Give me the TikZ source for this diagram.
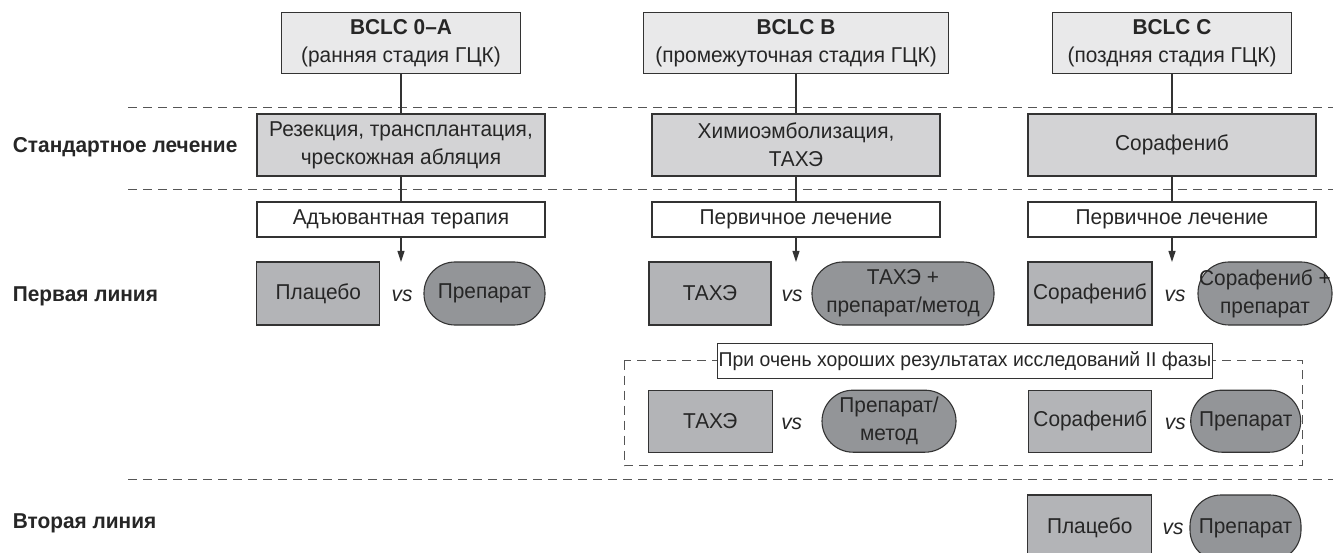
\documentclass[tikz,border=0pt]{standalone}
\usepackage{fontspec}
\setmainfont{Liberation Sans}[FakeStretch=0.97]
\usetikzlibrary{arrows.meta}
\definecolor{topfill}{HTML}{E9E9EA}
\definecolor{stdfill}{HTML}{D3D3D5}
\definecolor{rectfill}{HTML}{B3B4B7}
\definecolor{pillfill}{HTML}{939598}
\definecolor{linec}{HTML}{333333}
\definecolor{dashc}{HTML}{555555}
\tikzset{
  base/.style={draw=linec, line width=1.1pt, inner sep=0pt, align=center,
    font=\fontsize{21.5}{28}\selectfont, text=black!85},
  topbox/.style={base, fill=topfill, minimum height=61pt},
  stdbox/.style={base, fill=stdfill, minimum width=288pt, minimum height=62pt},
  wbox/.style={base, fill=white, minimum width=288pt, minimum height=35pt},
  cmpbox/.style={base, fill=rectfill, minimum height=63pt},
  pill/.style={base, fill=pillfill, minimum height=63pt, rounded corners=31pt},
  vslab/.style={font=\fontsize{21.5}{24}\selectfont\itshape, text=black!85, inner sep=0pt},
  rowlab/.style={font=\fontsize{21.5}{24}\selectfont\bfseries, text=black!85, anchor=west, inner sep=0pt},
  sepline/.style={draw=dashc, line width=1pt, dash pattern=on 9pt off 6pt},
  conn/.style={draw=linec, line width=1.1pt},
  arr/.style={conn, -{Triangle[length=11pt,width=7pt]}},
}
\begin{document}
\begin{tikzpicture}[x=1pt,y=-1pt]
\useasboundingbox (0,0) rectangle (1333,553);
\clip (0,0) rectangle (1333,553);

% separators
\draw[sepline] (128,108) -- (1333,108);
\draw[sepline] (128,190) -- (1333,190);
\draw[sepline] (128,479) -- (1333,479);

% row labels
\node[rowlab] (l1) at (12.7,147) {Стандартное лечение};
\node[rowlab] (l2) at (12.7,296) {Первая линия};
\node[rowlab] (l3) at (12.7,523) {Вторая линия};

% top boxes
\node[topbox, minimum width=239pt] (At) at (401,43.3) {\textbf{BCLC 0–A}\\(ранняя стадия ГЦК)};
\node[topbox, minimum width=305pt] (Bt) at (796,43.3) {\textbf{BCLC B}\\(промежуточная стадия ГЦК)};
\node[topbox, minimum width=239pt] (Ct) at (1172,43.3) {\textbf{BCLC C}\\(поздняя стадия ГЦК)};

% standard treatment
\node[stdbox] (As) at (401,145) {Резекция, трансплантация,\\чрескожная абляция};
\node[stdbox] (Bs) at (796,145) {Химиоэмболизация,\\ТАХЭ};
\node[stdbox] (Cs) at (1172,145) {Сорафениб};

% white boxes
\node[wbox] (Aw) at (401,219.5) {Адъювантная терапия};
\node[wbox] (Bw) at (796,219.5) {Первичное лечение};
\node[wbox] (Cw) at (1172,219.5) {Первичное лечение};

% connectors
\draw[conn] (At.south) -- (As.north);
\draw[conn] (Bt.south) -- (Bs.north);
\draw[conn] (Ct.south) -- (Cs.north);
\draw[conn] (As.south) -- (Aw.north);
\draw[conn] (Bs.south) -- (Bw.north);
\draw[conn] (Cs.south) -- (Cw.north);
\coordinate (Aa) at (401,262);
\coordinate (Ba) at (796,262);
\coordinate (Ca) at (1172,262);
\draw[arr] (Aw.south) -- (Aa);
\draw[arr] (Bw.south) -- (Ba);
\draw[arr] (Cw.south) -- (Ca);

% first line
\node[cmpbox, minimum width=123pt] (A1r) at (318.3,293.5) {Плацебо};
\node[vslab] (A1v) at (402,296) {vs};
\node[pill, minimum width=121pt] (A1p) at (484.5,293.5) {Препарат};

\node[cmpbox, minimum width=122pt] (B1r) at (710,293.5) {ТАХЭ};
\node[vslab] (B1v) at (792,296) {vs};
\node[pill, minimum width=182pt] (B1p) at (903,293.5) {ТАХЭ +\\препарат/метод};

\node[cmpbox, minimum width=124pt] (C1r) at (1090,293.5) {Сорафениб};
\node[vslab] (C1v) at (1175,296) {vs};
\node[pill, minimum width=134pt] (C1p) at (1265,293.5) {Сорафениб +\\препарат};

% phase II region
\draw[sepline] (624,360.7) rectangle (1302.3,465.7);
\node[wbox, minimum width=494.6pt, font=\fontsize{20}{24}\selectfont] (ph) at (965,360.8) {При очень хороших результатах исследований II фазы};

\node[cmpbox, minimum width=124pt, minimum height=62pt] (B2r) at (710.3,421.2) {ТАХЭ};
\node[vslab] (B2v) at (791.7,424) {vs};
\node[pill, minimum width=134pt, minimum height=62pt] (B2p) at (889,421.2) {Препарат/\\метод};

\node[cmpbox, minimum width=123pt, minimum height=62pt] (C2r) at (1090.3,421.2) {Сорафениб};
\node[vslab] (C2v) at (1175.3,424) {vs};
\node[pill, minimum width=110pt, minimum height=62pt] (C2p) at (1245.7,421.2) {Препарат};

% second line
\node[cmpbox, minimum width=124pt, minimum height=66pt] (C3r) at (1089.7,528) {Плацебо};
\node[vslab] (C3v) at (1173,529) {vs};
\node[pill, minimum width=111pt, minimum height=66pt] (C3p) at (1245.5,528) {Препарат};
\end{tikzpicture}
\end{document}
